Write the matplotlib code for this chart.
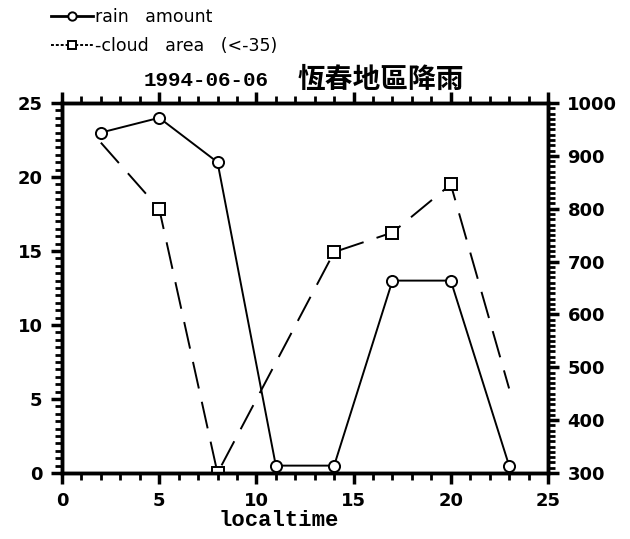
import matplotlib
matplotlib.use("Agg")
import matplotlib.pyplot as plt
from matplotlib.ticker import MultipleLocator

# ===== data =====
rain_hour = [2, 5, 8, 11, 14, 17, 20, 23]
rain_amount = [23, 24, 21, 0.5, 0.5, 13, 13, 0.5]
cloud_hour = [2, 5, 8, 14, 17, 20, 23]
cloud_area = [925, 800, 300, 718, 755, 846, 460]
cloud_marked = [1, 2, 3, 4, 5]  # indices drawn with a square marker
title_date = "1994-06-06"
title_cn = "恆春地區降雨"
# =======================================

plt.rcParams["font.family"] = ["DejaVu Sans", "Noto Sans CJK TC"]

fig = plt.figure(figsize=(6.3, 5.39), dpi=100)
ax = fig.add_axes([0.0984, 0.1224, 0.7714, 0.6865])
ax2 = ax.twinx()

ax.plot(rain_hour, rain_amount, color="black", linewidth=1.4,
        marker="o", markersize=8, markerfacecolor="white",
        markeredgewidth=1.4, zorder=3)
ax2.plot(cloud_hour, cloud_area, color="black", linewidth=1.4,
         dashes=(14, 7), marker="s", markersize=8, markerfacecolor="white",
         markeredgewidth=1.4, markevery=cloud_marked)

ax.set_xlim(0, 25)
ax.set_ylim(0, 25)
ax2.set_ylim(300, 1000)
ax.xaxis.set_major_locator(MultipleLocator(5))
ax.xaxis.set_minor_locator(MultipleLocator(1))
ax.yaxis.set_major_locator(MultipleLocator(5))
ax.yaxis.set_minor_locator(MultipleLocator(0.5))
ax2.yaxis.set_major_locator(MultipleLocator(100))
ax2.yaxis.set_minor_locator(MultipleLocator(10))

for a in (ax, ax2):
    for spine in a.spines.values():
        spine.set_linewidth(2.5)
ax.tick_params(which="major", direction="out", length=8, width=2.5,
               labelsize=13, top=True, pad=6)
ax.tick_params(which="minor", direction="out", length=5, width=2, top=True)
ax2.tick_params(which="major", direction="out", length=8, width=2.5,
                labelsize=13, pad=6)
ax2.tick_params(which="minor", direction="out", length=5, width=2)
for lab in ax.get_xticklabels() + ax.get_yticklabels() + ax2.get_yticklabels():
    lab.set_fontweight("bold")

# title in two pieces, like the original
ax.text(0.297, 1.062, title_date, transform=ax.transAxes, ha="center",
        va="center", fontsize=15, fontweight="bold", family="Liberation Mono")
ax.text(0.655, 1.062, title_cn, transform=ax.transAxes, ha="center",
        va="center", fontsize=20, fontweight="bold", family="Noto Sans CJK TC")
ax.set_xlabel("localtime", fontsize=16, fontweight="bold",
              family="Liberation Mono")
ax.xaxis.set_label_coords(0.445, -0.1)

# legend in the upper left corner
h1, = ax.plot([], [], color="black", linewidth=2, marker="o", markersize=6,
              markerfacecolor="white", markeredgewidth=1.4)
h2, = ax.plot([], [], color="black", linewidth=1.4, dashes=(1.5, 1), marker="s",
              markersize=6, markerfacecolor="white", markeredgewidth=1.4)
fig.legend([h1, h2], ["rain   amount", "-cloud   area   (<-35)"],
           loc="upper left", bbox_to_anchor=(0.065, 1.005), frameon=False,
           fontsize=12.5, handlelength=2.4, handletextpad=0.1,
           labelspacing=0.65, borderaxespad=0.2)

fig.savefig("out.png", dpi=100, facecolor="white")
plt.close(fig)
